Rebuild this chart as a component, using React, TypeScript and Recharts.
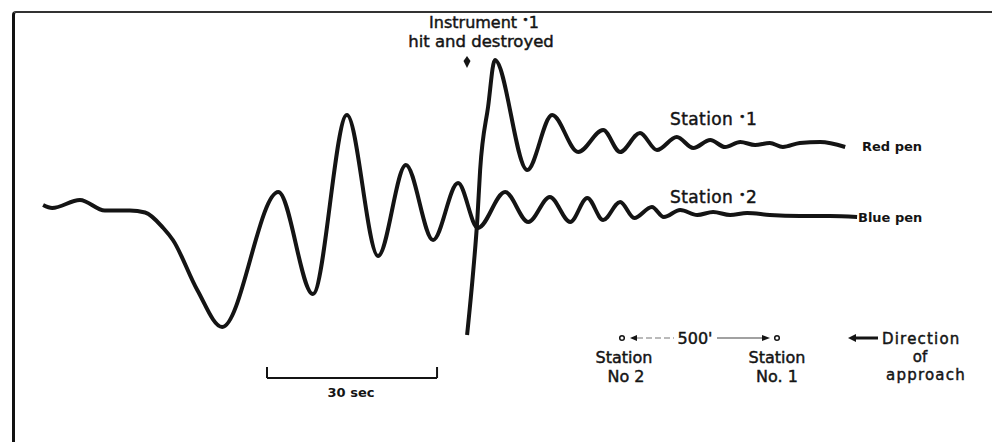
import React from "react";
import { LineChart, Line, XAxis, YAxis, ReferenceLine } from "recharts";

// time in seconds, deflection in trace units (Station 2 rest line = 0)
const station2Time = [
  0, 1.6, 6.5, 10.9, 15.3, 18.0, 21.2, 22.9, 27.2, 31.6, 41.5, 47.6, 53.6, 59.1,
  64.0, 68.8, 73.2, 76.7, 81.5, 85.6, 89.4, 93.0, 96.0, 98.8, 101.8, 104.3,
  107.4, 109.5, 112.4, 115.4, 118.2, 121.2, 124.2, 128.2, 133.5, 138.8, 143.6,
];
const station2Value = [
  1.1, 0.8, 1.6, 0.55, 0.55, 0.35, -1.2, -2.4, -7.4, -11.1, 2.4, -7.8, 10.1,
  -4.0, 5.1, -2.4, 3.3, -1.2, 2.4, -0.6, 1.9, -0.6, 1.8, -0.4, 1.4, -0.2, 0.9,
  -0.1, 0.6, 0.1, 0.4, 0.1, 0.3, 0.1, 0, 0, -0.1,
];

const station1Time = [
  74.8, 75.9, 76.6, 77.1, 78.5, 79.7, 85.4, 89.8, 94.4, 98.8, 101.8, 105.3,
  108.3, 111.8, 114.7, 117.7, 120.3, 123.0, 125.6, 128.2, 130.5, 133.5, 137.1,
  141.5,
];
const station1Value = [
  -11.9, -5.4, -0.4, 4.6, 10.9, 15.6, 4.6, 10.1, 6.4, 8.6, 6.4, 8.3, 6.6, 7.9,
  6.8, 7.6, 6.9, 7.4, 7.1, 7.3, 6.9, 7.3, 7.4, 6.9,
];

// 30 second scale bar
const scaleStart = 39.5;
const scaleEnd = 69.5;
const scaleLevel = -16.2;
const scaleTick = 1.1;

const station2 = station2Time.map((t, i) => ({ t, v: station2Value[i] }));
const station1 = station1Time.map((t, i) => ({ t, v: station1Value[i] }));

const ink = "#141414";
const font = "'DejaVu Sans', sans-serif";
const heavy = { stroke: ink, strokeWidth: 0.45 };

const Num = ({ n }: { n: string }) => (
  <>
    <tspan dy={-5} fontSize={11}>{"•"}</tspan>
    <tspan dy={5}>{n}</tspan>
  </>
);

const App: React.FC = () => {
  return (
    <div
      style={{
        position: "absolute",
        left: 0,
        top: 0,
        width: 992,
        height: 442,
        background: "#fff",
        overflow: "hidden",
      }}
    >
      <div
        style={{
          position: "absolute",
          left: 12,
          top: 11,
          width: 990,
          height: 440,
          borderLeft: "3px solid #111",
          borderTop: "2px solid #333",
          borderTopLeftRadius: 4,
        }}
      />
      <div style={{ position: "absolute", left: 0, top: 0 }}>
        <LineChart
          width={992}
          height={442}
          margin={{ top: 0, right: 0, bottom: 0, left: 0 }}
        >
          <XAxis
            hide
            type="number"
            dataKey="t"
            domain={[-7.6, 167.4]}
            allowDataOverflow
          />
          <YAxis
            hide
            type="number"
            domain={[-22.6, 21.6]}
            allowDataOverflow
          />
          <ReferenceLine
            segment={[
              { x: scaleStart, y: scaleLevel },
              { x: scaleEnd, y: scaleLevel },
            ]}
            stroke={ink}
            strokeWidth={2}
            ifOverflow="visible"
          />
          <ReferenceLine
            segment={[
              { x: scaleStart, y: scaleLevel },
              { x: scaleStart, y: scaleLevel + scaleTick },
            ]}
            stroke={ink}
            strokeWidth={2}
            ifOverflow="visible"
          />
          <ReferenceLine
            segment={[
              { x: scaleEnd, y: scaleLevel },
              { x: scaleEnd, y: scaleLevel + scaleTick },
            ]}
            stroke={ink}
            strokeWidth={2}
            ifOverflow="visible"
          />
          <Line
            data={station2}
            dataKey="v"
            type="monotone"
            stroke={ink}
            strokeWidth={4}
            strokeDasharray="100000 0"
            dot={false}
            activeDot={false}
            isAnimationActive={false}
          />
          <Line
            data={station1}
            dataKey="v"
            type="monotone"
            stroke={ink}
            strokeWidth={4}
            strokeDasharray="100000 0"
            dot={false}
            activeDot={false}
            isAnimationActive={false}
          />
        </LineChart>
      </div>
      <svg
        width={992}
        height={442}
        style={{ position: "absolute", left: 0, top: 0, pointerEvents: "none" }}
        fontFamily={font}
        fill={ink}
      >
        <text x={484} y={28} fontSize={16} textAnchor="middle" {...heavy}>
          Instrument <Num n="1" />
        </text>
        <text x={481} y={47} fontSize={16.5} textAnchor="middle" {...heavy}>
          hit and destroyed
        </text>
        <path d="M467,56 L470.5,61 L467,68 L463.5,61 Z" />

        <text x={670} y={125} fontSize={17} letterSpacing={0.4} {...heavy}>
          Station <Num n="1" />
        </text>
        <text x={670} y={203} fontSize={17} letterSpacing={0.4} {...heavy}>
          Station <Num n="2" />
        </text>
        <text x={862} y={151} fontSize={13} fontWeight="bold">
          Red pen
        </text>
        <text x={858} y={222} fontSize={13} fontWeight="bold">
          Blue pen
        </text>

        <text x={351} y={397} fontSize={13} fontWeight="bold" textAnchor="middle">
          30 sec
        </text>

        <circle cx={622} cy={338} r={2.3} fill="none" stroke={ink} strokeWidth={1.5} />
        <path d="M630,338 L637,335 L637,341 Z" />
        <line x1={637} y1={338} x2={674} y2={338} stroke="#777" strokeWidth={1.2} strokeDasharray="6 3" />
        <text x={695} y={344} fontSize={16} textAnchor="middle" {...heavy}>
          500'
        </text>
        <line x1={717} y1={338} x2={762} y2={338} stroke="#444" strokeWidth={1.2} />
        <path d="M770,338 L762,335 L762,341 Z" />
        <circle cx={777} cy={338} r={2.3} fill="none" stroke={ink} strokeWidth={1.5} />

        <text x={624} y={363} fontSize={16} textAnchor="middle" {...heavy}>
          Station
        </text>
        <text x={626} y={382} fontSize={16} textAnchor="middle" {...heavy}>
          No 2
        </text>
        <text x={777} y={363} fontSize={16} textAnchor="middle" {...heavy}>
          Station
        </text>
        <text x={777} y={382} fontSize={16} textAnchor="middle" {...heavy}>
          No. 1
        </text>

        <path d="M848,338 L856,334 L856,336.5 L878,336.5 L878,339.5 L856,339.5 L856,342 Z" />
        <text x={882} y={344} fontSize={15} letterSpacing={1.2} {...heavy}>
          Direction
        </text>
        <text x={920} y={362} fontSize={15} textAnchor="middle" {...heavy}>
          of
        </text>
        <text x={926} y={380} fontSize={15} letterSpacing={1.2} textAnchor="middle" {...heavy}>
          approach
        </text>
      </svg>
    </div>
  );
};

export default App;
